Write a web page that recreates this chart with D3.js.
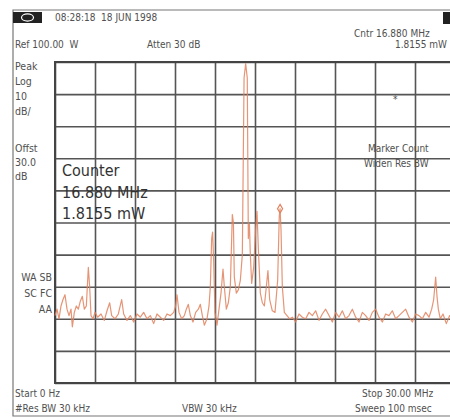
<!DOCTYPE html>
<html>
<head>
<meta charset="utf-8">
<script src="https://cdn.jsdelivr.net/npm/d3@7"></script>
<style>
  body { margin: 0; background: #fff; }
  text { font-family: "DejaVu Sans Condensed", "DejaVu Sans", sans-serif; fill: #505050; white-space: pre; }
</style>
</head>
<body>
<svg width="450" height="418"></svg>
<script>
// trace: frequency in MHz, level in dBm
const freqMHz = [
  0.0, 0.15, 0.3, 0.45, 0.6, 0.75, 0.9, 1.05, 1.2, 1.3, 1.45, 1.6, 1.75, 1.9, 2.05, 2.2, 2.35, 2.5, 2.6, 2.7, 2.85, 3.0,
  3.2, 3.45, 3.7, 3.9, 4.1, 4.25, 4.5, 4.75, 5.0, 5.15, 5.4, 5.65, 5.9, 6.15, 6.4, 6.65, 6.9, 7.15, 7.4, 7.65, 7.9, 8.15, 8.4, 8.65, 8.9,
  9.05, 9.15, 9.3, 9.5, 9.7, 9.85, 10.0, 10.15, 10.35, 10.55, 10.75, 10.9, 11.05, 11.2, 11.4, 11.55,
  11.65, 11.75, 11.82, 11.9, 12.0, 12.15, 12.3, 12.45, 12.6, 12.7, 12.85, 13.0, 13.15, 13.3, 13.38, 13.45, 13.6, 13.75, 13.9, 14.05,
  14.18, 14.3, 14.42, 14.5, 14.58, 14.65, 14.75, 14.9, 15.05, 15.15, 15.25, 15.4, 15.55, 15.7, 15.85, 15.97, 16.1, 16.3, 16.5,
  16.7, 16.82, 16.88, 16.95, 17.05, 17.2, 17.4, 17.6,
  17.8, 18.05, 18.3, 18.55, 18.8, 19.05, 19.3, 19.55, 19.8, 20.05, 20.3, 20.55, 20.8, 21.05, 21.3, 21.55, 21.8, 22.05, 22.3, 22.55,
  22.8, 23.05, 23.3, 23.55, 23.8, 24.05, 24.3, 24.55, 24.8, 25.05, 25.3, 25.55, 25.8, 26.05, 26.3, 26.55, 26.8, 27.05, 27.3, 27.55,
  27.8, 28.05, 28.25, 28.4, 28.55, 28.65, 28.75, 28.9, 29.1, 29.35, 29.6, 29.8, 30.0
];
const levelDbm = [
  -29, -27, -30, -26, -24, -22.5, -27, -29, -27, -32.5, -28, -26, -27, -24.5, -23, -27, -26, -14, -20, -29, -30, -28,
  -29.5, -28.5, -30.5, -27.5, -25, -29, -30, -28.5, -24, -28.5, -30.5, -29, -31, -28.5, -29.5, -28, -30, -29, -31.5, -28.5, -29.5, -30.5, -28.5, -29, -28,
  -26, -22.5, -28, -30, -29, -27, -25.5, -29, -31, -28, -27, -25.5, -29, -32, -30, -26,
  -20, -5, -3, -12, -28, -32, -27, -22, -14.5, -20, -27, -25, -20, 2.5, 0, -17, -22, -21, -18, -10,
  45, 49.5, 45, -5, -0.5, -10, -19, -14, -2, 3.5, -8, -22, -25, -26, -20, -15, -24, -27.5, -28,
  -18, 2, 4.3, -2, -20, -28, -29, -30,
  -29.5, -31, -28.5, -29.5, -30, -28, -29, -27.5, -30.5, -28.5, -27, -29, -31, -28, -29.5, -27.5, -30, -29, -27, -29.5,
  -31, -28, -29, -30.5, -28, -27, -29.5, -31, -28.5, -29, -27.5, -30, -29, -28, -27, -29.5, -31, -28.5, -29, -30,
  -28, -29.5, -27, -24, -17, -23, -27, -30, -28.5, -31.5, -29, -30, -28.5
];
const marker = { f: 16.88, level: 4.3 };

const leftLabels = [
  { t: "Peak", y: 70 }, { t: "Log", y: 85 }, { t: "10", y: 100 }, { t: "dB/", y: 115 },
  { t: "Offst", y: 152 }, { t: "30.0", y: 166 }, { t: "dB", y: 180 }
];
const couplingLabels = [{ t: "WA SB", y: 281 }, { t: "SC FC", y: 297 }, { t: "AA", y: 313 }];

const svg = d3.select('svg');
const gridLeft = 55, gridRight = 455, gridTop = 62, gridBottom = 383;

const xScale = d3.scaleLinear().domain([0, 30]).range([gridLeft, gridRight]);
const yScale = d3.scaleLinear().domain([-50, 50]).range([gridBottom, gridTop]);

// screen frame
svg.append('path')
  .attr('d', `M450,10 H13 V416 H450`)
  .attr('fill', 'none')
  .attr('stroke', '#777')
  .attr('stroke-width', 1.2);

// graticule
const xAxis = d3.axisBottom(xScale).tickValues(d3.range(0, 31, 3))
  .tickSize(-(gridBottom - gridTop)).tickFormat('');
const yAxis = d3.axisLeft(yScale).tickValues(d3.range(-50, 51, 10))
  .tickSize(-(gridRight - gridLeft)).tickFormat('');

const gx = svg.append('g').attr('transform', `translate(0, ${gridBottom})`).call(xAxis);
const gy = svg.append('g').attr('transform', `translate(${gridLeft}, 0)`).call(yAxis);
[gx, gy].forEach(g => {
  g.select('.domain').remove();
  g.selectAll('line').attr('stroke', '#555').attr('stroke-width', 1.6);
});
svg.append('rect')
  .attr('x', gridLeft).attr('y', gridTop)
  .attr('width', gridRight - gridLeft).attr('height', gridBottom - gridTop)
  .attr('fill', 'none').attr('stroke', '#444').attr('stroke-width', 2);

// trace
const trace = freqMHz.map((f, i) => ({ f: f, level: levelDbm[i] }));
const line = d3.line()
  .x(d => xScale(d.f))
  .y(d => yScale(d.level));
svg.append('path')
  .datum(trace)
  .attr('fill', 'none')
  .attr('stroke', '#e0825e')
  .attr('stroke-opacity', 0.85)
  .attr('stroke-width', 1.2)
  .attr('stroke-linejoin', 'round')
  .attr('d', line);

svg.append('path')
  .attr('d', d3.symbol(d3.symbolDiamond, 22)())
  .attr('transform', `translate(${xScale(marker.f)}, ${yScale(marker.level)})`)
  .attr('fill', 'none')
  .attr('stroke', '#e0825e')
  .attr('stroke-width', 1.2);

// header
svg.append('rect').attr('x', 13).attr('y', 12).attr('width', 29).attr('height', 11).attr('fill', '#222');
svg.append('ellipse').attr('cx', 27.5).attr('cy', 17.5).attr('rx', 6).attr('ry', 3.6)
  .attr('fill', 'none').attr('stroke', '#fff').attr('stroke-width', 1.2);
svg.append('rect').attr('x', 443).attr('y', 12).attr('width', 7).attr('height', 12).attr('fill', '#222');

const small = [
  { t: "08:28:18  18 JUN 1998", x: 55, y: 21 },
  { t: "Cntr 16.880 MHz", x: 354, y: 37 },
  { t: "Ref 100.00  W", x: 15, y: 48 },
  { t: "Atten 30 dB", x: 147, y: 48 },
  { t: "1.8155 mW", x: 395, y: 48 },
  { t: "Marker Count", x: 368, y: 152 },
  { t: "Widen Res BW", x: 364, y: 167 },
  { t: "Start 0 Hz", x: 15, y: 397 },
  { t: "#Res BW 30 kHz", x: 15, y: 412 },
  { t: "VBW 30 kHz", x: 182, y: 412 },
  { t: "Stop 30.00 MHz", x: 362, y: 397 },
  { t: "Sweep 100 msec", x: 355, y: 412 }
];
svg.selectAll('text.small').data(small).join('text')
  .attr('class', 'small')
  .attr('x', d => d.x).attr('y', d => d.y)
  .attr('font-size', 10)
  .text(d => d.t);

svg.selectAll('text.left').data(leftLabels).join('text')
  .attr('class', 'left')
  .attr('x', 15).attr('y', d => d.y)
  .attr('font-size', 10.5)
  .text(d => d.t);

svg.selectAll('text.coupling').data(couplingLabels).join('text')
  .attr('class', 'coupling')
  .attr('x', 52).attr('y', d => d.y)
  .attr('text-anchor', 'end')
  .attr('font-size', 10.5)
  .text(d => d.t);

svg.append('text').attr('x', 393).attr('y', 103).attr('font-size', 10).text('*');

// counter readout
const counter = ["Counter", "16.880 MHz", "1.8155 mW"];
svg.selectAll('text.counter').data(counter).join('text')
  .attr('class', 'counter')
  .attr('x', 62).attr('y', (d, i) => 176 + i * 21.5)
  .attr('font-size', 16)
  .style('fill', '#333')
  .text(d => d);
</script>
</body>
</html>
